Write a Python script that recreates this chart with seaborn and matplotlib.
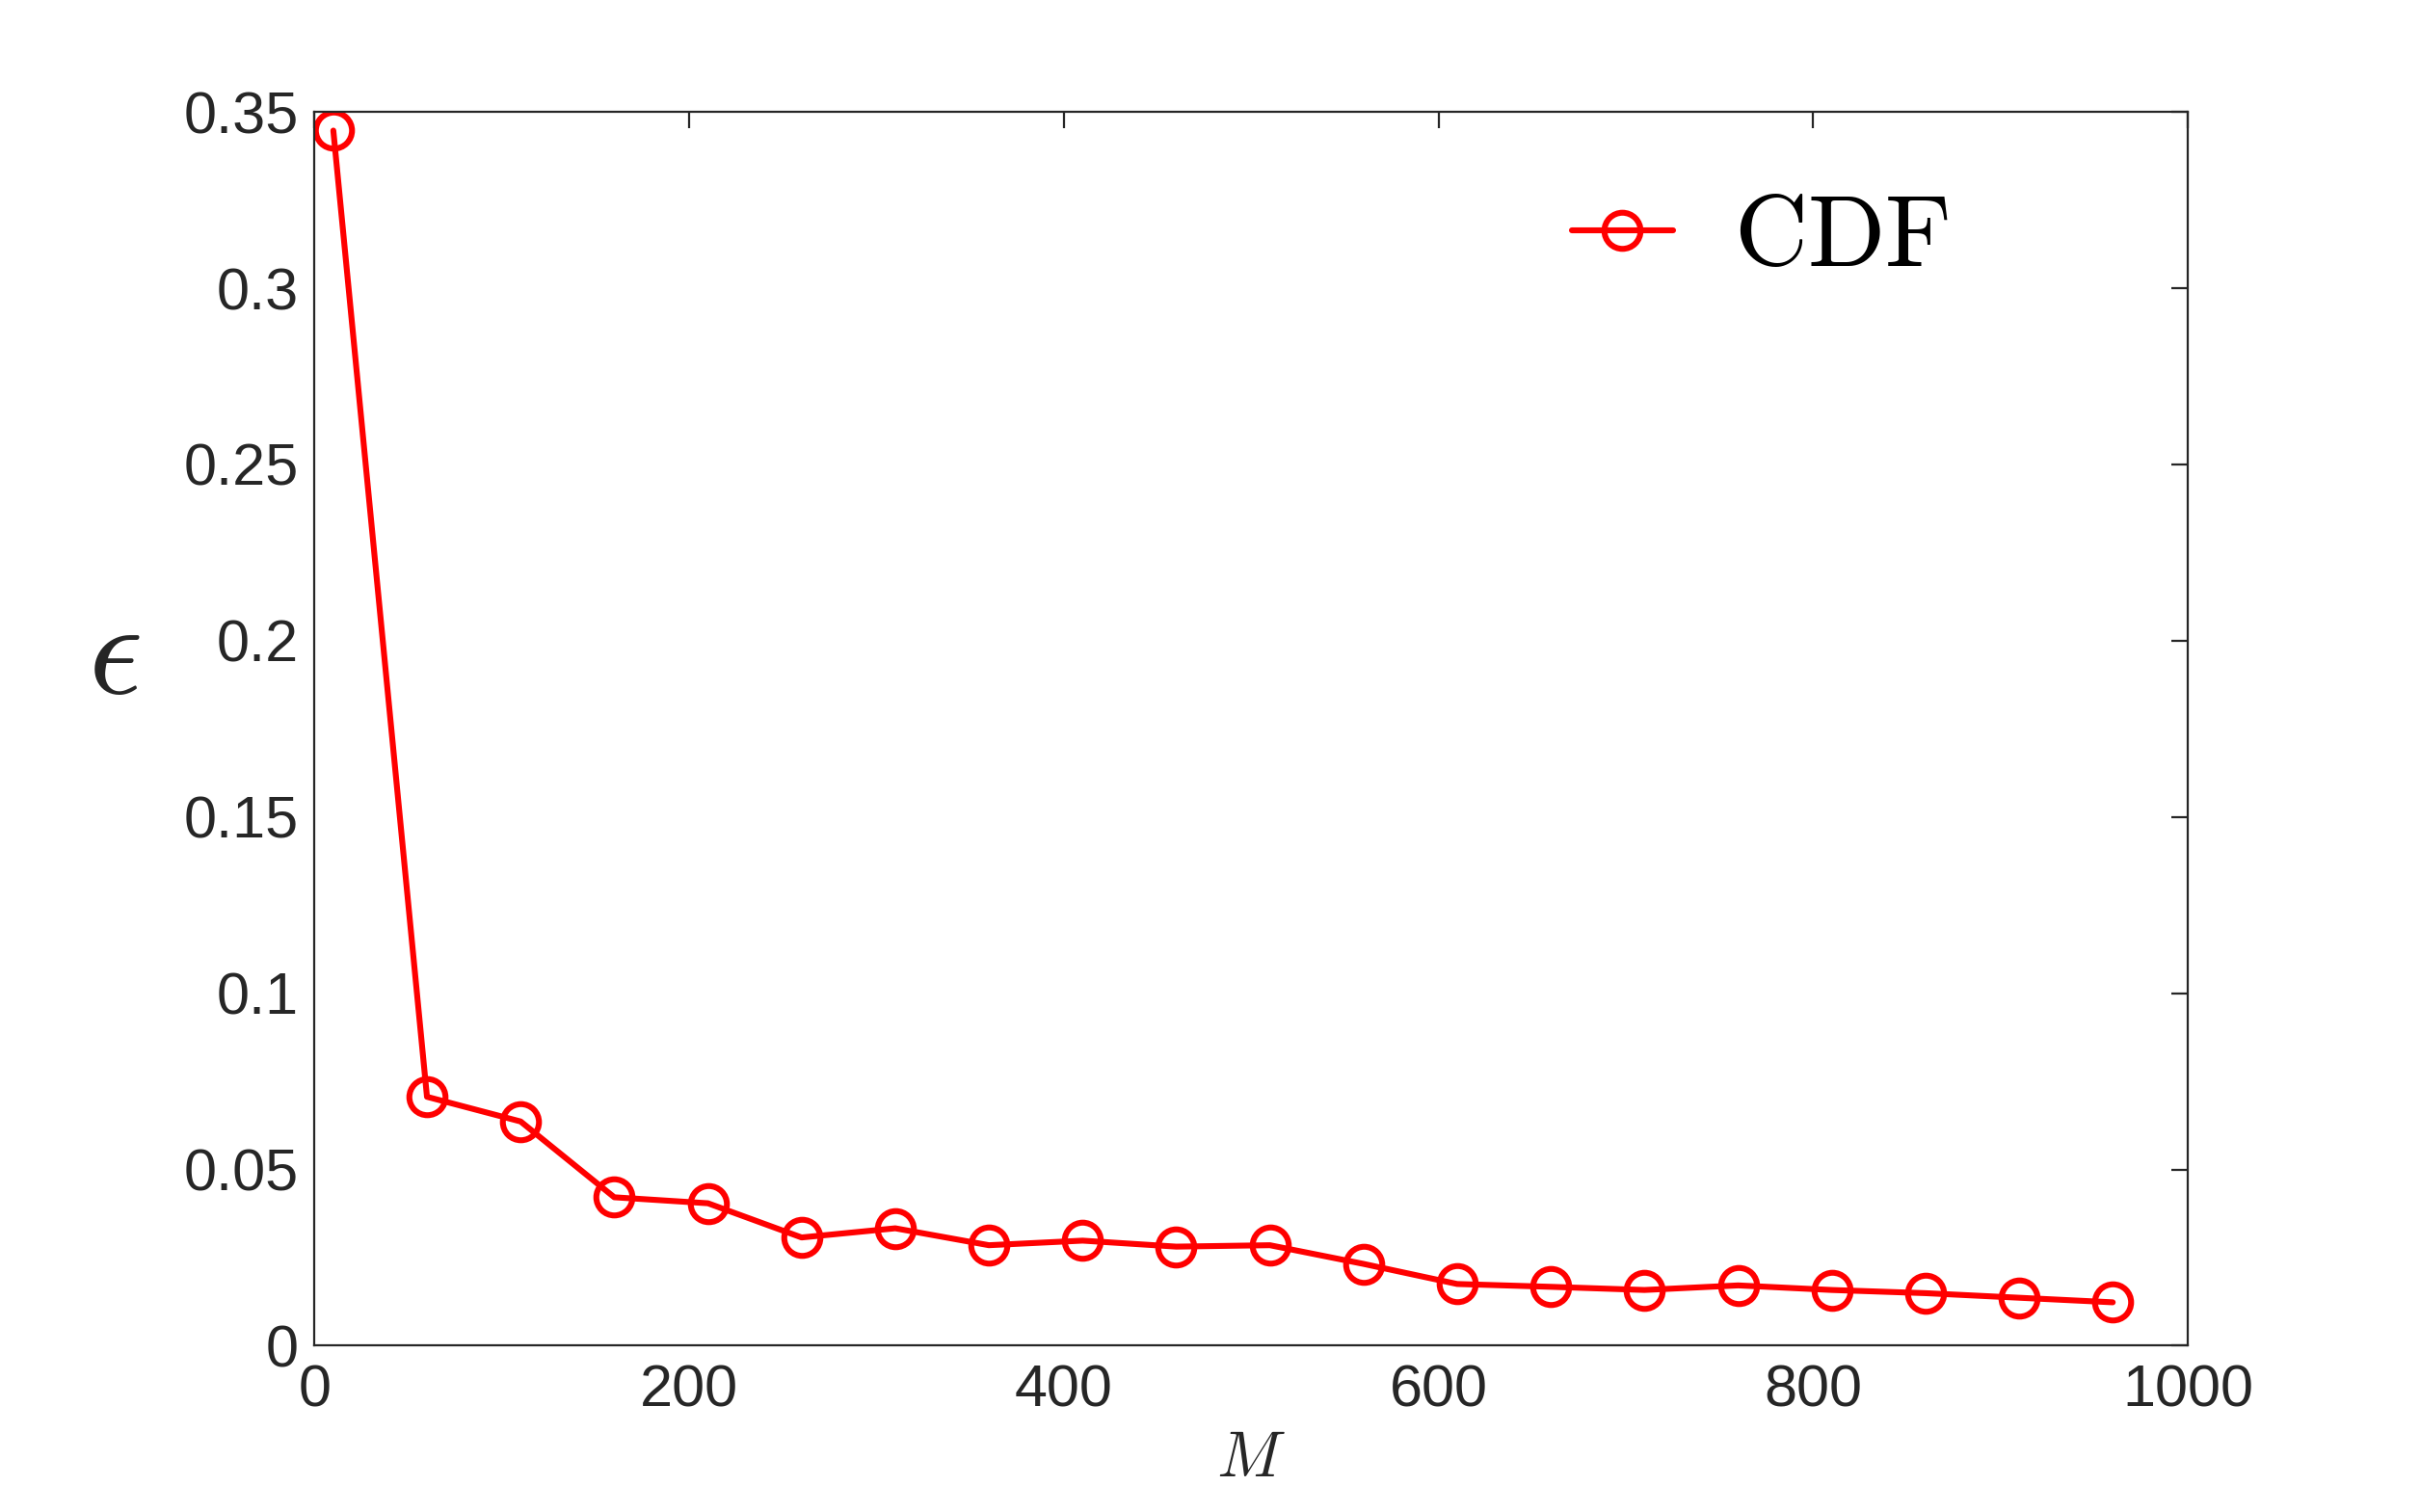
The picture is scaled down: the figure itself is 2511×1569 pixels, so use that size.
import numpy as np
import pandas as pd
import matplotlib
matplotlib.use("Agg")
import matplotlib.pyplot as plt
import seaborn as sns

# values
m_values = [10, 60, 110, 160, 210, 260, 310, 360, 410, 460,
            510, 560, 610, 660, 710, 760, 810, 860, 910, 960]
eps_values = [0.3447, 0.0706, 0.0636, 0.0421, 0.0404, 0.0307, 0.0333, 0.0285, 0.0298, 0.0281,
              0.0285, 0.0232, 0.0175, 0.0167, 0.0158, 0.0171, 0.0158, 0.0149, 0.0136, 0.0123]
x_ticks = [0, 200, 400, 600, 800, 1000]
y_ticks = [0, 0.05, 0.1, 0.15, 0.2, 0.25, 0.3, 0.35]
y_ticklabels = ["0", "0.05", "0.1", "0.15", "0.2", "0.25", "0.3", "0.35"]

df = pd.DataFrame({"M": m_values, "eps": eps_values})

sns.set_style("white")
plt.rcParams["font.family"] = ["Liberation Sans", "DejaVu Sans"]
plt.rcParams["mathtext.fontset"] = "cm"

fig = plt.figure(figsize=(12.555, 7.845), dpi=200)
ax = fig.add_axes([0.130, 0.110, 0.774, 0.816])

sns.lineplot(data=df, x="M", y="eps", ax=ax, color="red", linewidth=2.2,
             marker="o", markersize=13.5, markerfacecolor="none",
             markeredgecolor="red", markeredgewidth=2.2, label="CDF")

ax.set_xlim(0, 1000)
ax.set_ylim(0, 0.35)
ax.set_xticks(x_ticks)
ax.set_yticks(y_ticks)
ax.set_yticklabels(y_ticklabels)

for s in ax.spines.values():
    s.set_visible(True)
    s.set_color("#262626")
    s.set_linewidth(0.8)
ax.tick_params(direction="in", length=6, width=0.8, color="#262626",
               top=True, right=True, labelsize=22, labelcolor="#262626")
ax.tick_params(axis="y", pad=6)
ax.tick_params(axis="x", pad=7)

ax.set_xlabel(r"$M$", fontsize=24, labelpad=4, color="#262626")
ax.set_ylabel(r"$\epsilon$", fontsize=50, rotation=0, va="center", ha="center",
              color="#262626")
ax.yaxis.set_label_coords(-0.107, 0.557)

leg = ax.legend(loc="center left", bbox_to_anchor=(0.671, 0.897), frameon=False,
                borderaxespad=0, borderpad=0, handlelength=1.0, handletextpad=0.6,
                prop={"size": 38})
for t in leg.get_texts():
    t.set_text(r"$\mathrm{CDF}$")
    t.set_color("black")

fig.savefig("out.png", dpi=200, facecolor="white")
